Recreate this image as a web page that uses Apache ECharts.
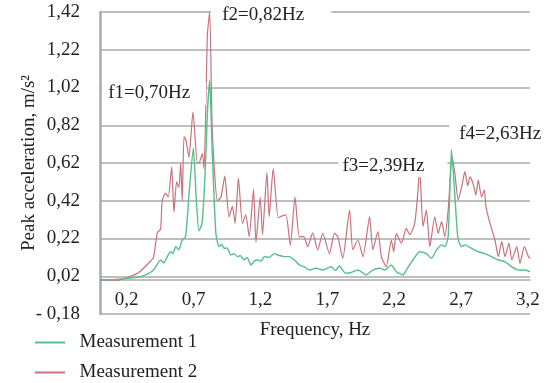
<!DOCTYPE html>
<html>
<head>
<meta charset="utf-8">
<title>Peak acceleration spectrum</title>
<script src="https://cdn.jsdelivr.net/npm/echarts@6/dist/echarts.min.js"></script>
<style>
  html, body { margin: 0; padding: 0; background: #fff; }
  #chart { width: 552px; height: 383px; }
</style>
</head>
<body>
<div id="chart"></div>
<script>
// x tick labels (Hz)
const freqTicks = [0.2, 0.7, 1.2, 1.7, 2.2, 2.7, 3.2];

// Measurement 1 (green)
const m1Freq = [0, 0.14, 0.29, 0.34, 0.40, 0.453, 0.478, 0.503, 0.528, 0.545, 0.566, 0.59, 0.613, 0.64,
  0.665, 0.698, 0.718, 0.74, 0.763, 0.785, 0.804, 0.82, 0.838, 0.866, 0.89, 0.91, 0.928, 0.95, 0.978,
  1.003, 1.028, 1.048, 1.078, 1.10, 1.128, 1.153, 1.178, 1.205, 1.228, 1.265, 1.303, 1.34, 1.378, 1.415,
  1.453, 1.49, 1.528, 1.566, 1.616, 1.665, 1.728, 1.76, 1.79, 1.835, 1.878, 1.928, 1.99, 2.04, 2.09,
  2.128, 2.178, 2.216, 2.266, 2.29, 2.34, 2.39, 2.44, 2.478, 2.516, 2.554, 2.578, 2.603, 2.628, 2.653,
  2.676, 2.703, 2.728, 2.778, 2.828, 2.878, 2.928, 2.978, 3.028, 3.079, 3.128, 3.178, 3.215];
const m1Acc = [0, 0.005, 0.016, 0.027, 0.053, 0.106, 0.09, 0.124, 0.15, 0.14, 0.177, 0.16, 0.21, 0.23,
  0.45, 0.70, 0.45, 0.26, 0.30, 0.55, 0.90, 1.06, 0.70, 0.25, 0.177, 0.19, 0.168, 0.17, 0.133,
  0.14, 0.124, 0.13, 0.106, 0.12, 0.08, 0.10, 0.106, 0.10, 0.124, 0.12, 0.14, 0.13, 0.124, 0.124,
  0.106, 0.08, 0.07, 0.053, 0.062, 0.053, 0.07, 0.05, 0.074, 0.036, 0.04, 0.053, 0.027, 0.053, 0.062,
  0.053, 0.08, 0.044, 0.027, 0.053, 0.106, 0.15, 0.14, 0.115, 0.159, 0.186, 0.177, 0.23, 0.69, 0.45,
  0.22, 0.177, 0.186, 0.168, 0.15, 0.14, 0.124, 0.106, 0.097, 0.07, 0.053, 0.053, 0.044];

// Measurement 2 (red)
const m2Freq = [0, 0.14, 0.228, 0.29, 0.365, 0.40, 0.428, 0.453, 0.465, 0.49, 0.51, 0.536, 0.553, 0.573,
  0.59, 0.603, 0.615, 0.628, 0.643, 0.665, 0.695, 0.728, 0.74, 0.765, 0.778, 0.803, 0.82, 0.84, 0.878,
  0.905, 0.933, 0.965, 0.99, 1.01, 1.035, 1.065, 1.09, 1.115, 1.148, 1.166, 1.198, 1.215, 1.248, 1.265,
  1.295, 1.333, 1.363, 1.39, 1.423, 1.458, 1.49, 1.523, 1.553, 1.59, 1.628, 1.665, 1.716, 1.753, 1.778,
  1.815, 1.866, 1.89, 1.928, 1.966, 2.016, 2.04, 2.078, 2.104, 2.14, 2.178, 2.196, 2.216, 2.254, 2.29,
  2.316, 2.353, 2.378, 2.39, 2.415, 2.44, 2.466, 2.503, 2.528, 2.554, 2.578, 2.603, 2.633, 2.653, 2.678,
  2.706, 2.728, 2.75, 2.766, 2.79, 2.81, 2.828, 2.853, 2.873, 2.886, 2.916, 2.953, 2.978, 3.004, 3.028,
  3.058, 3.079, 3.116, 3.14, 3.173, 3.203, 3.215];
const m2Acc = [0, 0.0, 0.02, 0.04, 0.09, 0.12, 0.25, 0.27, 0.42, 0.46, 0.44, 0.60, 0.36, 0.52,
  0.49, 0.62, 0.42, 0.76, 0.74, 0.65, 0.89, 0.62, 0.62, 0.67, 0.59, 1.30, 1.42, 0.78, 0.42,
  0.44, 0.55, 0.335, 0.39, 0.30, 0.54, 0.30, 0.345, 0.23, 0.48, 0.20, 0.44, 0.24, 0.57, 0.335,
  0.59, 0.33, 0.34, 0.345, 0.185, 0.44, 0.23, 0.23, 0.177, 0.25, 0.16, 0.247, 0.14, 0.247, 0.23,
  0.115, 0.37, 0.16, 0.212, 0.124, 0.335, 0.16, 0.256, 0.124, 0.07, 0.212, 0.15, 0.247, 0.195, 0.274,
  0.24, 0.30, 0.48, 0.60, 0.283, 0.37, 0.177, 0.335, 0.247, 0.31, 0.23, 0.37, 0.65, 0.567, 0.424,
  0.50, 0.574, 0.50, 0.547, 0.51, 0.45, 0.53, 0.44, 0.477, 0.388, 0.30, 0.212, 0.124, 0.203, 0.124,
  0.195, 0.106, 0.177, 0.088, 0.177, 0.124, 0.115];

// peak annotations
const peakText = ['f1=0,70Hz', 'f2=0,82Hz', 'f3=2,39Hz', 'f4=2,63Hz'];
const peakPos = [[0.405, 0.99], [1.28, 1.404], [2.19, 0.605], [3.0, 0.775]];

const gridGray = '#aaaaaa';
const serif = '"Liberation Serif", "DejaVu Serif", serif';
const fs = 19;

const pairs = (xs, ys) => xs.map((x, i) => [x, ys[i]]);

const labelPad = [[2, 16, 2, 6], [2, 27, 2, 11], [2, 23, 2, 4], [2, 12, 2, 10]];

const myChart = echarts.init(document.getElementById('chart'));
myChart.setOption({
  animation: false,
  textStyle: { fontFamily: serif },
  grid: { left: 100, right: 22, top: 12, bottom: 69 },
  legend: {
    orient: 'vertical',
    left: 35,
    top: 333,
    height: 60,
    padding: 0,
    itemWidth: 30,
    itemHeight: 2,
    itemGap: 11,
    textStyle: { fontSize: fs, color: '#222', fontFamily: serif },
    formatter: n => '  ' + n,
    data: [
      { name: 'Measurement 1', icon: 'rect' },
      { name: 'Measurement 2', icon: 'rect' }
    ]
  },
  xAxis: {
    type: 'value',
    min: 0,
    max: 3.215,
    name: 'Frequency, Hz',
    nameLocation: 'middle',
    nameGap: 7,
    nameMoveOverlap: false,
    nameTextStyle: { fontSize: fs, color: '#222', fontFamily: serif },
    axisLine: { onZero: true, lineStyle: { color: gridGray, width: 1.5 } },
    axisTick: { show: false },
    splitLine: { show: false },
    axisLabel: {
      customValues: freqTicks,
      inside: true,
      margin: 4,
      fontSize: fs,
      color: '#222',
      fontFamily: serif,
      formatter: v => v.toFixed(1).replace('.', ',')
    }
  },
  yAxis: {
    type: 'value',
    min: -0.18,
    max: 1.42,
    interval: 0.2,
    name: 'Peak acceleration, m/s²',
    nameLocation: 'middle',
    nameGap: 61,
    nameMoveOverlap: false,
    nameTextStyle: { fontSize: fs, color: '#222', fontFamily: serif },
    axisLine: { show: true, lineStyle: { color: gridGray, width: 2.5 } },
    axisTick: { show: false },
    splitLine: { lineStyle: { color: gridGray, width: 1.5 } },
    axisLabel: {
      margin: 20,
      fontSize: fs,
      color: '#222',
      fontFamily: serif,
      formatter: v => {
        const s = Math.abs(v).toFixed(2).replace('.', ',');
        return v < 0 ? '- ' + s : s;
      }
    }
  },
  series: [
    {
      name: 'Measurement 2',
      type: 'line',
      data: pairs(m2Freq, m2Acc),
      symbol: 'none',
      smooth: 0.2,
      lineStyle: { color: '#c8727c', width: 1.2 },
      itemStyle: { color: '#c8727c' },
      z: 2,
      markPoint: {
        symbol: 'rect',
        symbolSize: 1,
        itemStyle: { color: 'transparent' },
        label: {
          show: true,
          position: 'inside',
          fontSize: fs,
          color: '#222',
          fontFamily: serif,
          backgroundColor: '#fff',
          formatter: p => p.name
        },
        data: peakText.map((t, i) => ({
          name: t,
          coord: peakPos[i],
          label: { padding: labelPad[i] }
        }))
      }
    },
    {
      name: 'Measurement 1',
      type: 'line',
      data: pairs(m1Freq, m1Acc),
      symbol: 'none',
      smooth: 0.2,
      lineStyle: { color: '#55c08a', width: 1.4 },
      itemStyle: { color: '#55c08a' },
      z: 3
    }
  ]
});
</script>
</body>
</html>
